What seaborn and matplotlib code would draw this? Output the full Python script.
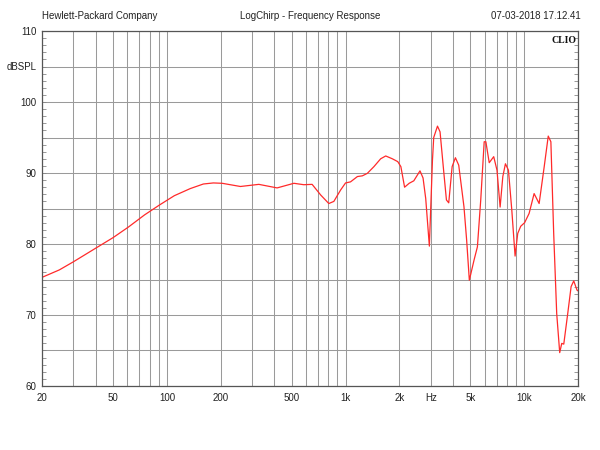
import matplotlib
matplotlib.use("Agg")
import matplotlib.pyplot as plt
from matplotlib.ticker import FixedLocator, FixedFormatter, NullLocator
import seaborn as sns
import pandas as pd

# ---- data ----
freq_hz = [20, 25, 30, 40.5, 50, 61, 75, 91, 110, 135, 160, 182, 204, 258, 327, 414,
           514, 584, 650, 726, 806, 860, 938, 1000, 1066, 1165, 1242, 1324, 1442,
           1572, 1678, 1828, 1960, 2040, 2140, 2270, 2410, 2610, 2715, 2810, 2945,
           3065, 3115, 3270, 3380, 3550, 3670, 3780, 3950, 4120, 4300, 4600, 4760,
           4930, 5240, 5470, 5710, 5970, 6100, 6370, 6750, 7040, 7330, 7590, 7850,
           8160, 8520, 8890, 9200, 9560, 10050, 10650, 11360, 12120, 12940, 13630,
           14100, 14620, 15200, 15800, 16220, 16650, 17520, 18300, 18930, 19750, 20000]
spl_db = [75.3, 76.35, 77.5, 79.5, 80.9, 82.4, 84.1, 85.5, 86.8, 87.8, 88.45, 88.6, 88.55,
          88.1, 88.4, 87.9, 88.55, 88.35, 88.4, 86.9, 85.7, 86.0, 87.6, 88.6, 88.75,
          89.5, 89.6, 89.95, 90.9, 92.0, 92.4, 92.0, 91.6, 90.9, 88.0, 88.55, 88.9,
          90.3, 89.3, 86.4, 79.7, 91.8, 95.0, 96.6, 95.8, 90.0, 86.2, 85.8, 90.9,
          92.15, 91.1, 85.25, 80.6, 74.9, 77.75, 79.6, 86.2, 94.4, 94.4, 91.45, 92.3,
          90.4, 85.2, 89.5, 91.3, 90.4, 84.8, 78.3, 81.5, 82.5, 83.0, 84.3, 87.1,
          85.7, 90.9, 95.2, 94.4, 81.5, 70.2, 64.7, 66.0, 65.9, 70.2, 74.0, 74.8,
          73.5, 73.4]

x_grid = [20, 30, 40, 50, 60, 70, 80, 90, 100, 200, 300, 400, 500, 600, 700, 800, 900,
          1000, 2000, 3000, 4000, 5000, 6000, 7000, 8000, 9000, 10000, 20000]
x_labels = {20: "20", 50: "50", 100: "100", 200: "200", 500: "500", 1000: "1k",
            2000: "2k", 3000: "Hz", 5000: "5k", 10000: "10k", 20000: "20k"}
y_grid = [60, 65, 70, 75, 80, 85, 90, 95, 100, 105, 110]
y_labels = {60: "60", 70: "70", 80: "80", 90: "90", 100: "100", 105: "dBSPL", 110: "110"}

header_left = "Hewlett-Packard Company"
header_title = "LogChirp - Frequency Response"
header_right = "07-03-2018 17.12.41"
brand = "CLIO"

df = pd.DataFrame({"freq": freq_hz, "spl": spl_db})

sns.set_style("white")
plt.rcParams["font.family"] = ["Liberation Sans", "DejaVu Sans"]

fig = plt.figure(figsize=(6, 4.5), dpi=100)
ax = fig.add_axes([42 / 600, 1 - 386 / 450, (578 - 42) / 600, (386 - 31) / 450])

sns.lineplot(data=df, x="freq", y="spl", ax=ax, color="#ff2a2a", linewidth=0.9,
             sort=False, legend=False)

ax.set_xscale("log")
ax.set_xlim(20, 20000)
ax.set_ylim(60, 110)

ax.xaxis.set_major_locator(FixedLocator(x_grid))
ax.xaxis.set_major_formatter(FixedFormatter([x_labels.get(v, "") for v in x_grid]))
ax.xaxis.set_minor_locator(NullLocator())
ax.yaxis.set_major_locator(FixedLocator(y_grid))
ax.yaxis.set_major_formatter(FixedFormatter([y_labels.get(v, "") for v in y_grid]))
ax.yaxis.set_minor_locator(FixedLocator(list(range(60, 111))))

ax.grid(True, which="major", color="#9a9a9a", linewidth=0.75)
ax.set_axisbelow(True)

ax.tick_params(axis="x", which="both", length=0, labelsize=7, pad=5, colors="#222222")
ax.tick_params(axis="y", which="both", direction="in", left=True, right=True,
               length=3, width=0.6, color="#888888", labelsize=7, pad=4,
               labelcolor="#222222")
for s in ax.spines.values():
    s.set_color("#555555")
    s.set_linewidth(0.9)

ax.set_xlabel("")
ax.set_ylabel("")

fig.text(42 / 600, 1 - 16 / 450, header_left, ha="left", va="center", fontsize=7,
         color="#222222")
fig.text(310 / 600, 1 - 16 / 450, header_title, ha="center", va="center", fontsize=7,
         color="#222222")
fig.text(581 / 600, 1 - 16 / 450, header_right, ha="right", va="center", fontsize=7,
         color="#222222")
ax.text(0.998, 0.985, brand, transform=ax.transAxes, ha="right", va="top",
        fontsize=7, fontweight="bold", family=["Liberation Serif", "DejaVu Serif"],
        color="#111111")

fig.savefig("out.png", dpi=100)
